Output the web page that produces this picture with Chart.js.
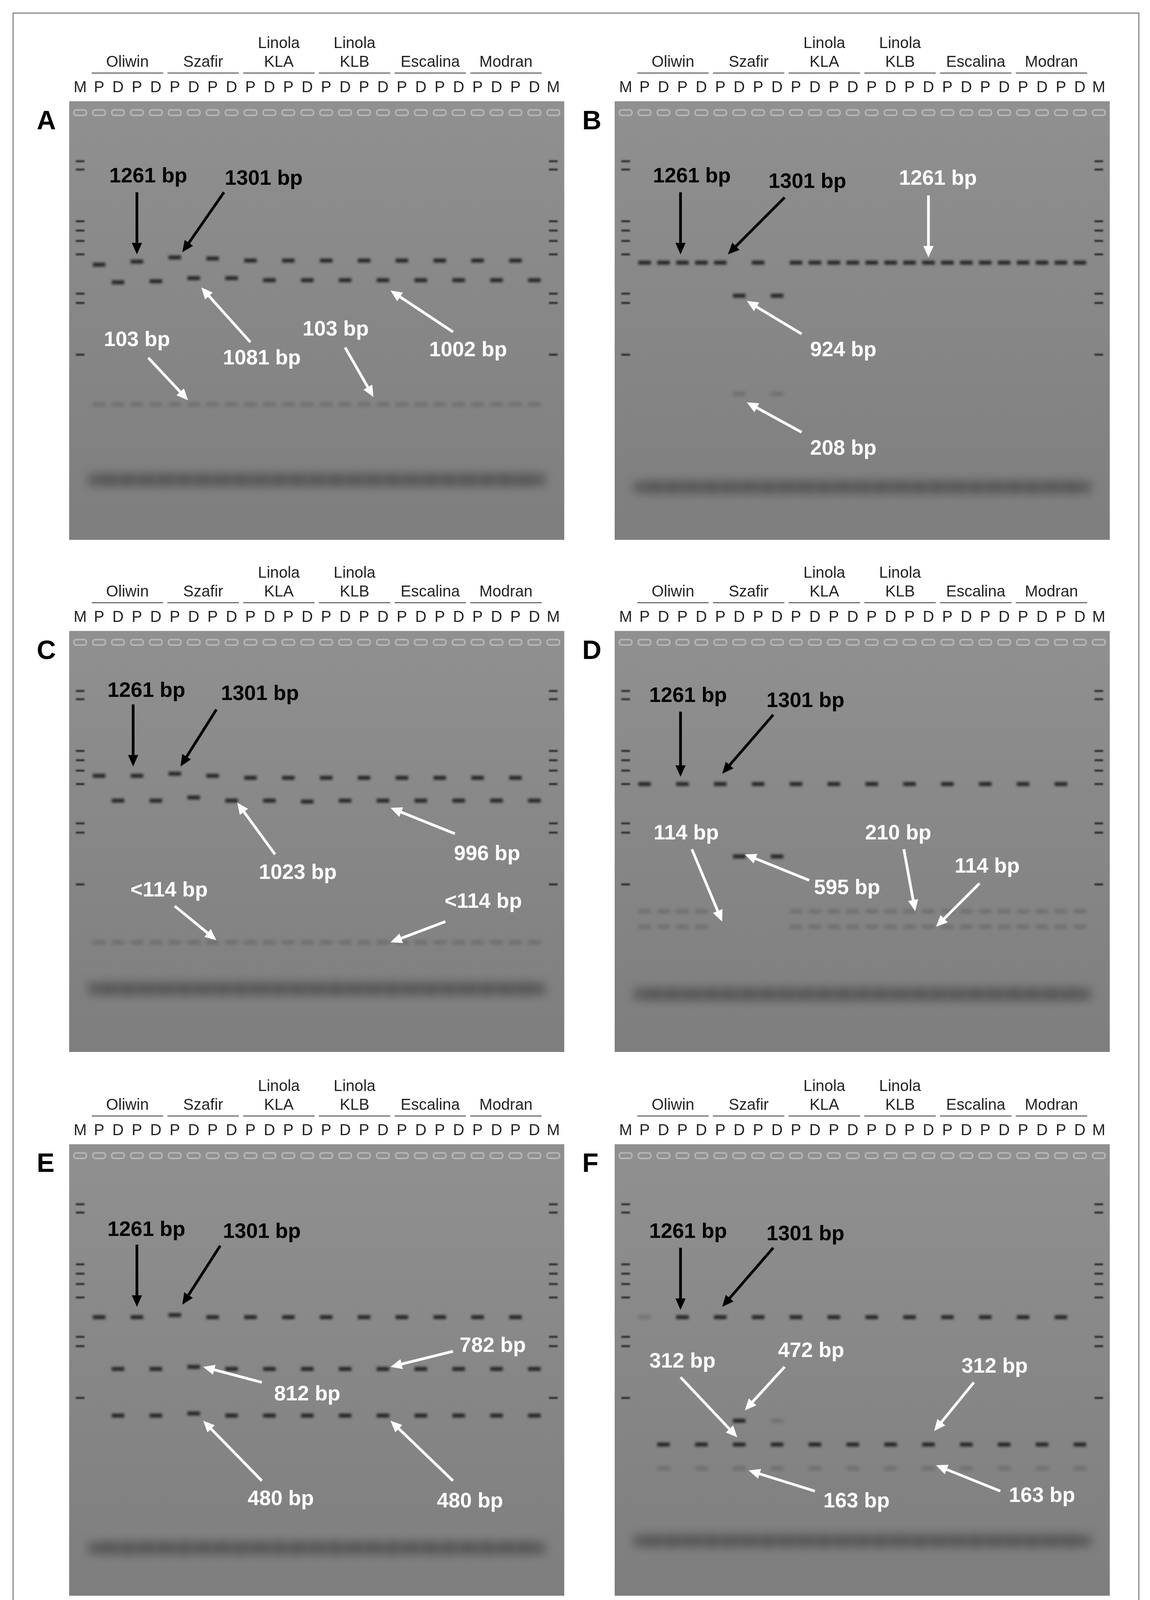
<!DOCTYPE html>
<html>
<head>
<meta charset="utf-8">
<script src="https://cdn.jsdelivr.net/npm/chart.js@4/dist/chart.umd.min.js"></script>
<style>
  body { margin:0; background:#fff; width:2943px; height:4187px; position:relative; font-family:"Liberation Sans", Arial, sans-serif; }
  #frame { position:absolute; left:32px; top:32px; width:2884px; height:4136px; border:3px solid #8a8a8a; box-sizing:border-box; }
  canvas { position:absolute; }
  .letter { position:absolute; font-weight:bold; font-size:68px; color:#000; }
</style>
</head>
<body>
<div id="frame"></div>
<script>
const S = 2.675;

const lanes = ['M','P','D','P','D','P','D','P','D','P','D','P','D','P','D','P','D','P','D','P','D','P','D','P','D','M'];
const groups = [['Oliwin',1,4],['Szafir',5,8],['Linola|KLA',9,12],['Linola|KLB',13,16],['Escalina',17,20],['Modran',21,24]];
const ladder = [58,66,116,125,135,148,186,195,245];
const pLanes = [1,3,5,7,9,11,13,15,17,19,21,23];
const dLanes = [2,4,6,8,10,12,14,16,18,20,22,24];
const allLanes = pLanes.concat(dLanes);

// band y positions (px from gel top, display scale) per panel
const aP = [158,155,151,152,154,154,154,154,154,154,154,154];
const aD = [175,174,171,171,173,173,173,173,173,173,173,173];
const cP = [140,140,138,140,142,142,142,142,142,142,142,142];
const cD = [164,164,161,164,164,165,164,164,164,164,164,164];
const eP = [167,167,165,167,167,167,167,167,167,167,167,167];
const eD1 = [217,217,215,217,217,217,217,217,217,217,217,217];
const eD2 = [262,262,260,262,262,262,262,262,262,262,262,262];
const fD1 = [290,290,290,290,290,290,290,290,290,290,290,290];
const fD2 = [313,313,313,313,313,313,313,313,313,313,313,313];

function pts(ls, ys) {
  const out = [];
  ls.forEach((l, i) => (Array.isArray(ys) && ls.length === 1 ? ys : [Array.isArray(ys) ? ys[i] : ys]).forEach(y => out.push({x: l, y})));
  return out;
}

const panels = [
  {letter:'A', left:62, gelTop:97, gelH:424, smear:366,
   strong: pts(pLanes, aP).concat(pts(dLanes, aD)),
   faint: pts(allLanes, 293),
   notes: [['1261 bp','#000',3.6,73,3,88,3,148],['1301 bp','#000',9.7,75,7.6,88,5.4,146],
           ['1081 bp','#fff',9.6,249,9.0,233,6.4,180],['1002 bp','#fff',20.5,241,19.7,223,16.4,183],
           ['103 bp','#fff',3.0,231,3.6,248,5.7,289],['103 bp','#fff',13.5,221,14.0,238,15.5,286]]},
  {letter:'B', left:584, gelTop:97, gelH:424, smear:373,
   strong: pts([1,2,3,4,5,7,9,10,11,12,13,14,15,16,17,18,19,20,21,22,23,24], 156).concat(pts([6,8],188)),
   faint: pts([6,8], 283),
   notes: [['1261 bp','#000',3.5,73,2.9,88,2.9,148],['1301 bp','#000',9.6,78,8.4,93,5.4,148],
           ['1261 bp','#fff',16.5,75,16,91,16,151],['924 bp','#fff',11.5,241,9.3,225,6.4,193],
           ['208 bp','#fff',11.5,336,9.3,320,6.4,291]]},
  {letter:'C', left:62, gelTop:604, gelH:407, smear:346,
   strong: pts(pLanes, cP).concat(pts(dLanes, cD)),
   faint: pts(allLanes, 301),
   notes: [['1261 bp','#000',3.5,58,2.8,71,2.8,131],['1301 bp','#000',9.5,61,7.2,76,5.3,131],
           ['1023 bp','#fff',11.5,234,10.3,216,8.3,166],['996 bp','#fff',21.5,216,19.8,196,16.4,171],
           ['<114 bp','#fff',4.7,251,5.0,266,7.2,299],['<114 bp','#fff',21.3,262,19.3,281,16.4,301]]},
  {letter:'D', left:584, gelTop:604, gelH:407, smear:351,
   strong: pts(pLanes, 148).concat(pts([6,8], 218)),
   faint: pts([1,2,3,4,9,10,11,12,13,14,15,16,17,18,19,20,21,22,23,24], 271)
            .concat(pts([1,2,3,4,9,10,11,12,13,14,15,16,17,18,19,20,21,22,23,24], 286)),
   notes: [['1261 bp','#000',3.3,63,2.9,78,2.9,141],['1301 bp','#000',9.5,68,7.8,81,5.1,138],
           ['114 bp','#fff',3.2,196,3.5,211,5.1,281],['595 bp','#fff',11.7,249,9.7,241,6.3,216],
           ['210 bp','#fff',14.4,196,14.7,211,15.3,271],['114 bp','#fff',19.1,228,18.7,244,16.4,286]]},
  {letter:'E', left:62, gelTop:1095, gelH:436, smear:390,
   strong: pts(pLanes, eP).concat(pts(dLanes, eD1)).concat(pts(dLanes, eD2)),
   faint: [],
   notes: [['1261 bp','#000',3.5,83,3,97,3,157],['1301 bp','#000',9.6,85,7.4,98,5.4,155],
           ['812 bp','#fff',12,242,9.6,230,6.5,215],['782 bp','#fff',21.8,195,19.7,200,16.4,215],
           ['480 bp','#fff',10.6,343,9.6,325,6.5,267],['480 bp','#fff',20.6,345,19.7,325,16.4,267]]},
  {letter:'F', left:584, gelTop:1095, gelH:436, smear:383,
   strong: pts(pLanes.slice(1), 167).concat(pts(dLanes, fD1)).concat(pts([6], [267])),
   faint: pts(dLanes, fD2).concat(pts([1], [167])).concat(pts([8], [267])),
   notes: [['1261 bp','#000',3.3,85,2.9,100,2.9,160],['1301 bp','#000',9.5,87,7.8,100,5.1,157],
           ['312 bp','#fff',3.0,210,2.9,225,5.9,283],['472 bp','#fff',9.8,200,8.4,215,6.3,257],
           ['163 bp','#fff',12.2,345,10,335,6.5,315],['312 bp','#fff',19.5,215,18.4,230,16.3,277],
           ['163 bp','#fff',22,340,19.8,335,16.4,310]]}
];

function blob(w, h, color, blur) {
  const c = document.createElement('canvas');
  c.width = w + blur * 4; c.height = h + blur * 4;
  const g = c.getContext('2d');
  g.filter = 'blur(' + blur + 'px)';
  g.fillStyle = color;
  g.fillRect(blur * 2, blur * 2, w, h);
  return c;
}
function well() {
  const c = document.createElement('canvas');
  c.width = 40; c.height = 22;
  const g = c.getContext('2d');
  g.strokeStyle = 'rgba(200,200,200,0.7)'; g.lineWidth = 4;
  g.beginPath(); g.roundRect(4, 4, 32, 14, 6); g.stroke();
  return c;
}
const strongImg = blob(32, 10, 'rgba(20,20,20,0.85)', 3);
const faintImg = blob(32, 9, 'rgba(50,50,50,0.28)', 4);
const ladderImg = blob(22, 5, 'rgba(15,15,15,0.75)', 1.5);
const smearImg = blob(56, 30, 'rgba(40,40,40,0.45)', 12);
const wellImg = well();

const gelBg = {
  id: 'gelBg',
  beforeDatasetsDraw(chart) {
    const a = chart.chartArea, ctx = chart.ctx;
    const gr = ctx.createLinearGradient(0, a.top, 0, a.bottom);
    gr.addColorStop(0, '#909090'); gr.addColorStop(1, '#7e7e7e');
    ctx.save(); ctx.fillStyle = gr; ctx.fillRect(a.left, a.top, a.right - a.left, a.bottom - a.top); ctx.restore();
  }
};
const headers = {
  id: 'headers',
  afterDraw(chart) {
    const ctx = chart.ctx, x = chart.scales.x, top = chart.chartArea.top;
    ctx.save();
    ctx.font = (15 * S) + 'px "Liberation Sans", Arial, sans-serif';
    ctx.fillStyle = '#222'; ctx.strokeStyle = '#333'; ctx.lineWidth = 2;
    ctx.textAlign = 'center'; ctx.textBaseline = 'middle';
    groups.forEach(([name, a, b]) => {
      const cx = (x.getPixelForValue(a) + x.getPixelForValue(b)) / 2;
      const parts = name.split('|');
      parts.forEach((t, i) => ctx.fillText(t, cx, top - (37 + 18 * (parts.length - 1 - i)) * S));
      ctx.beginPath();
      ctx.moveTo(x.getPixelForValue(a) - 7 * S, top - 27 * S);
      ctx.lineTo(x.getPixelForValue(b) + 7 * S, top - 27 * S);
      ctx.stroke();
    });
    ctx.restore();
  }
};
const notes = {
  id: 'notes',
  afterDatasetsDraw(chart, args, opts) {
    const ctx = chart.ctx, x = chart.scales.x, y = chart.scales.y;
    ctx.save();
    ctx.font = 'bold ' + (20 * S) + 'px "Liberation Sans", Arial, sans-serif';
    ctx.textAlign = 'center'; ctx.textBaseline = 'middle';
    opts.items.forEach(([t, col, tx, ty, x1, y1, x2, y2]) => {
      ctx.fillStyle = col; ctx.strokeStyle = col; ctx.lineWidth = 2.6 * S;
      ctx.fillText(t, x.getPixelForValue(tx), y.getPixelForValue(ty));
      const ax = x.getPixelForValue(x1), ay = y.getPixelForValue(y1);
      const bx = x.getPixelForValue(x2), by = y.getPixelForValue(y2);
      const ang = Math.atan2(by - ay, bx - ax), h = 12 * S;
      ctx.beginPath(); ctx.moveTo(ax, ay);
      ctx.lineTo(bx - Math.cos(ang) * h * 0.7, by - Math.sin(ang) * h * 0.7); ctx.stroke();
      ctx.beginPath(); ctx.moveTo(bx, by);
      ctx.lineTo(bx - h * Math.cos(ang - 0.42), by - h * Math.sin(ang - 0.42));
      ctx.lineTo(bx - h * Math.cos(ang + 0.42), by - h * Math.sin(ang + 0.42));
      ctx.closePath(); ctx.fill();
    });
    ctx.restore();
  }
};

const HEAD = 67;
panels.forEach(p => {
  const cv = document.createElement('canvas');
  const w = Math.round(482 * S), h = Math.round((p.gelH + HEAD) * S);
  cv.width = w; cv.height = h;
  cv.style.left = Math.round(p.left * S) + 'px';
  cv.style.top = Math.round((p.gelTop - HEAD) * S) + 'px';
  document.body.appendChild(cv);
  const lt = document.createElement('div');
  lt.className = 'letter'; lt.textContent = p.letter;
  lt.style.left = Math.round((p.left - 27) * S) + 'px';
  lt.style.top = Math.round((p.gelTop + 3) * S) + 'px';
  document.body.appendChild(lt);

  const ds = (data, img) => ({data, pointStyle: img, pointRadius: 10, showLine: false});
  new Chart(cv, {
    type: 'scatter',
    data: {datasets: [
      ds(lanes.map((_, i) => ({x: i, y: 11})), wellImg),
      ds(pts(allLanes, p.smear), smearImg),
      ds(pts([0], ladder).concat(pts([25], ladder)), ladderImg),
      ds(p.faint, faintImg),
      ds(p.strong, strongImg)
    ]},
    options: {
      responsive: false, animation: false, devicePixelRatio: 1,
      layout: {padding: 0},
      plugins: {legend: {display: false}, tooltip: {enabled: false}, notes: {items: p.notes}},
      scales: {
        x: {type: 'linear', position: 'top', min: -0.58, max: 25.58,
            grid: {display: false, drawTicks: false}, border: {display: false},
            afterBuildTicks: s => { s.ticks = lanes.map((_, i) => ({value: i})); },
            afterFit: s => { s.height = HEAD * S; },
            ticks: {autoSkip: false, maxRotation: 0, padding: 4 * S, color: '#222',
                    font: {size: 15 * S, family: '"Liberation Sans", Arial, sans-serif'},
                    callback: v => lanes[v]}},
        y: {type: 'linear', min: 0, max: p.gelH, reverse: true, display: false}
      }
    },
    plugins: [gelBg, headers, notes]
  });
});
</script>
</body>
</html>
